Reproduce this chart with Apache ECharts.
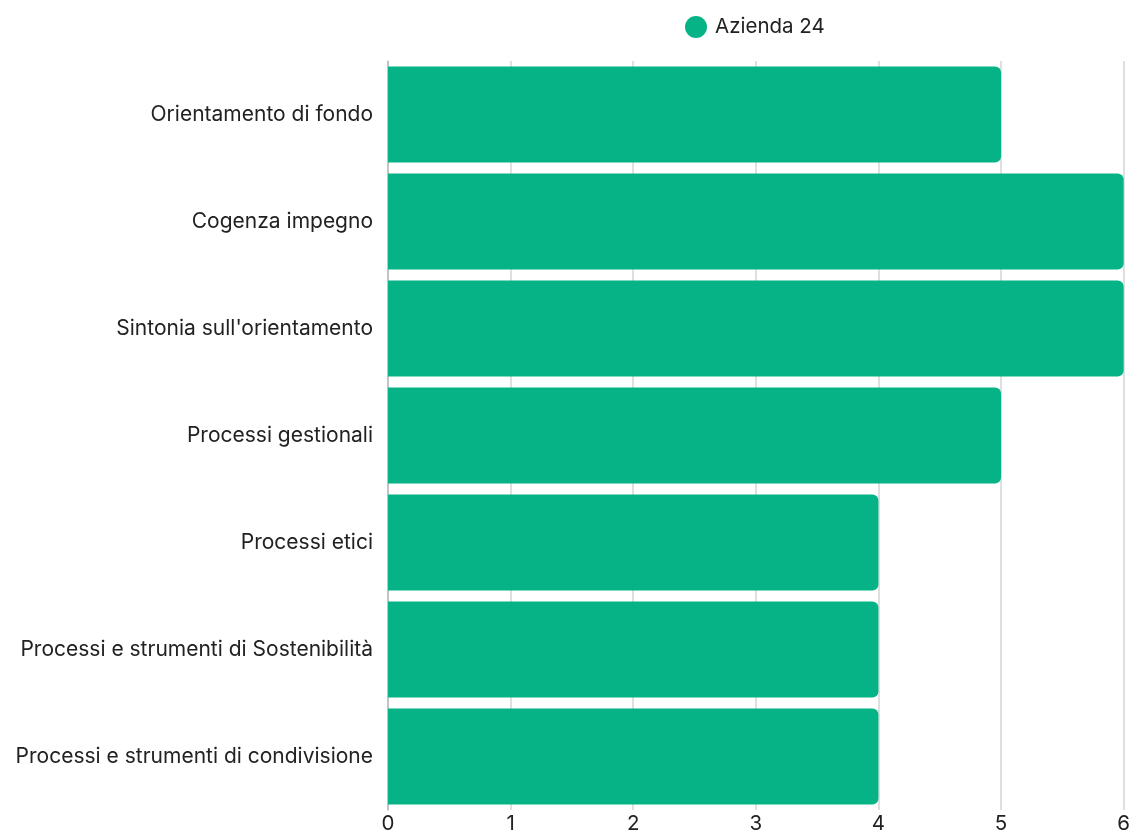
<!DOCTYPE html>
<html><head><meta charset="utf-8">
<script src="https://cdn.jsdelivr.net/npm/echarts@6/dist/echarts.min.js"></script>
<style>html,body{margin:0;padding:0;background:#fff}#c{width:1133px;height:834px}</style>
</head><body><div id="c"></div>
<script>
const categories = ["Orientamento di fondo","Cogenza impegno","Sintonia sull'orientamento","Processi gestionali","Processi etici","Processi e strumenti di Sostenibilità","Processi e strumenti di condivisione"];
const seriesName = "Azienda 24";
const values = [5,6,6,5,4,4,4];
const xTicks = [0,1,2,3,4,5,6];

const FONT = 'Inter';
const chart = echarts.init(document.getElementById('c'));
chart.setOption({
  animation:false,
  textStyle:{fontFamily:FONT},
  legend:{top:11,left:680,itemWidth:22,itemHeight:22,icon:'circle',itemGap:10,
    textStyle:{fontSize:20.5,color:'#222',fontFamily:FONT,padding:[0,0,0,3]},data:[seriesName]},
  grid:{left:388,right:6,top:61,bottom:24,containLabel:false},
  xAxis:{type:'value',min:xTicks[0],max:xTicks[xTicks.length-1],interval:1,
    axisLine:{show:false},axisTick:{show:false},
    axisLabel:{fontSize:20.5,color:'#222',margin:3,fontFamily:FONT},
    splitLine:{show:true,lineStyle:{color:'#d4d4d4',width:1.5}}},
  yAxis:{type:'category',inverse:true,data:categories,
    axisLine:{show:true,lineStyle:{color:'#bbbbbb',width:1.5}},axisTick:{show:false},
    axisLabel:{fontSize:21,color:'#222',margin:15,fontFamily:FONT}},
  series:[{name:seriesName,type:'bar',data:values,barCategoryGap:'10.3%',
    itemStyle:{color:'#05B386',borderRadius:[0,6,6,0]}}]
});
</script></body></html>
